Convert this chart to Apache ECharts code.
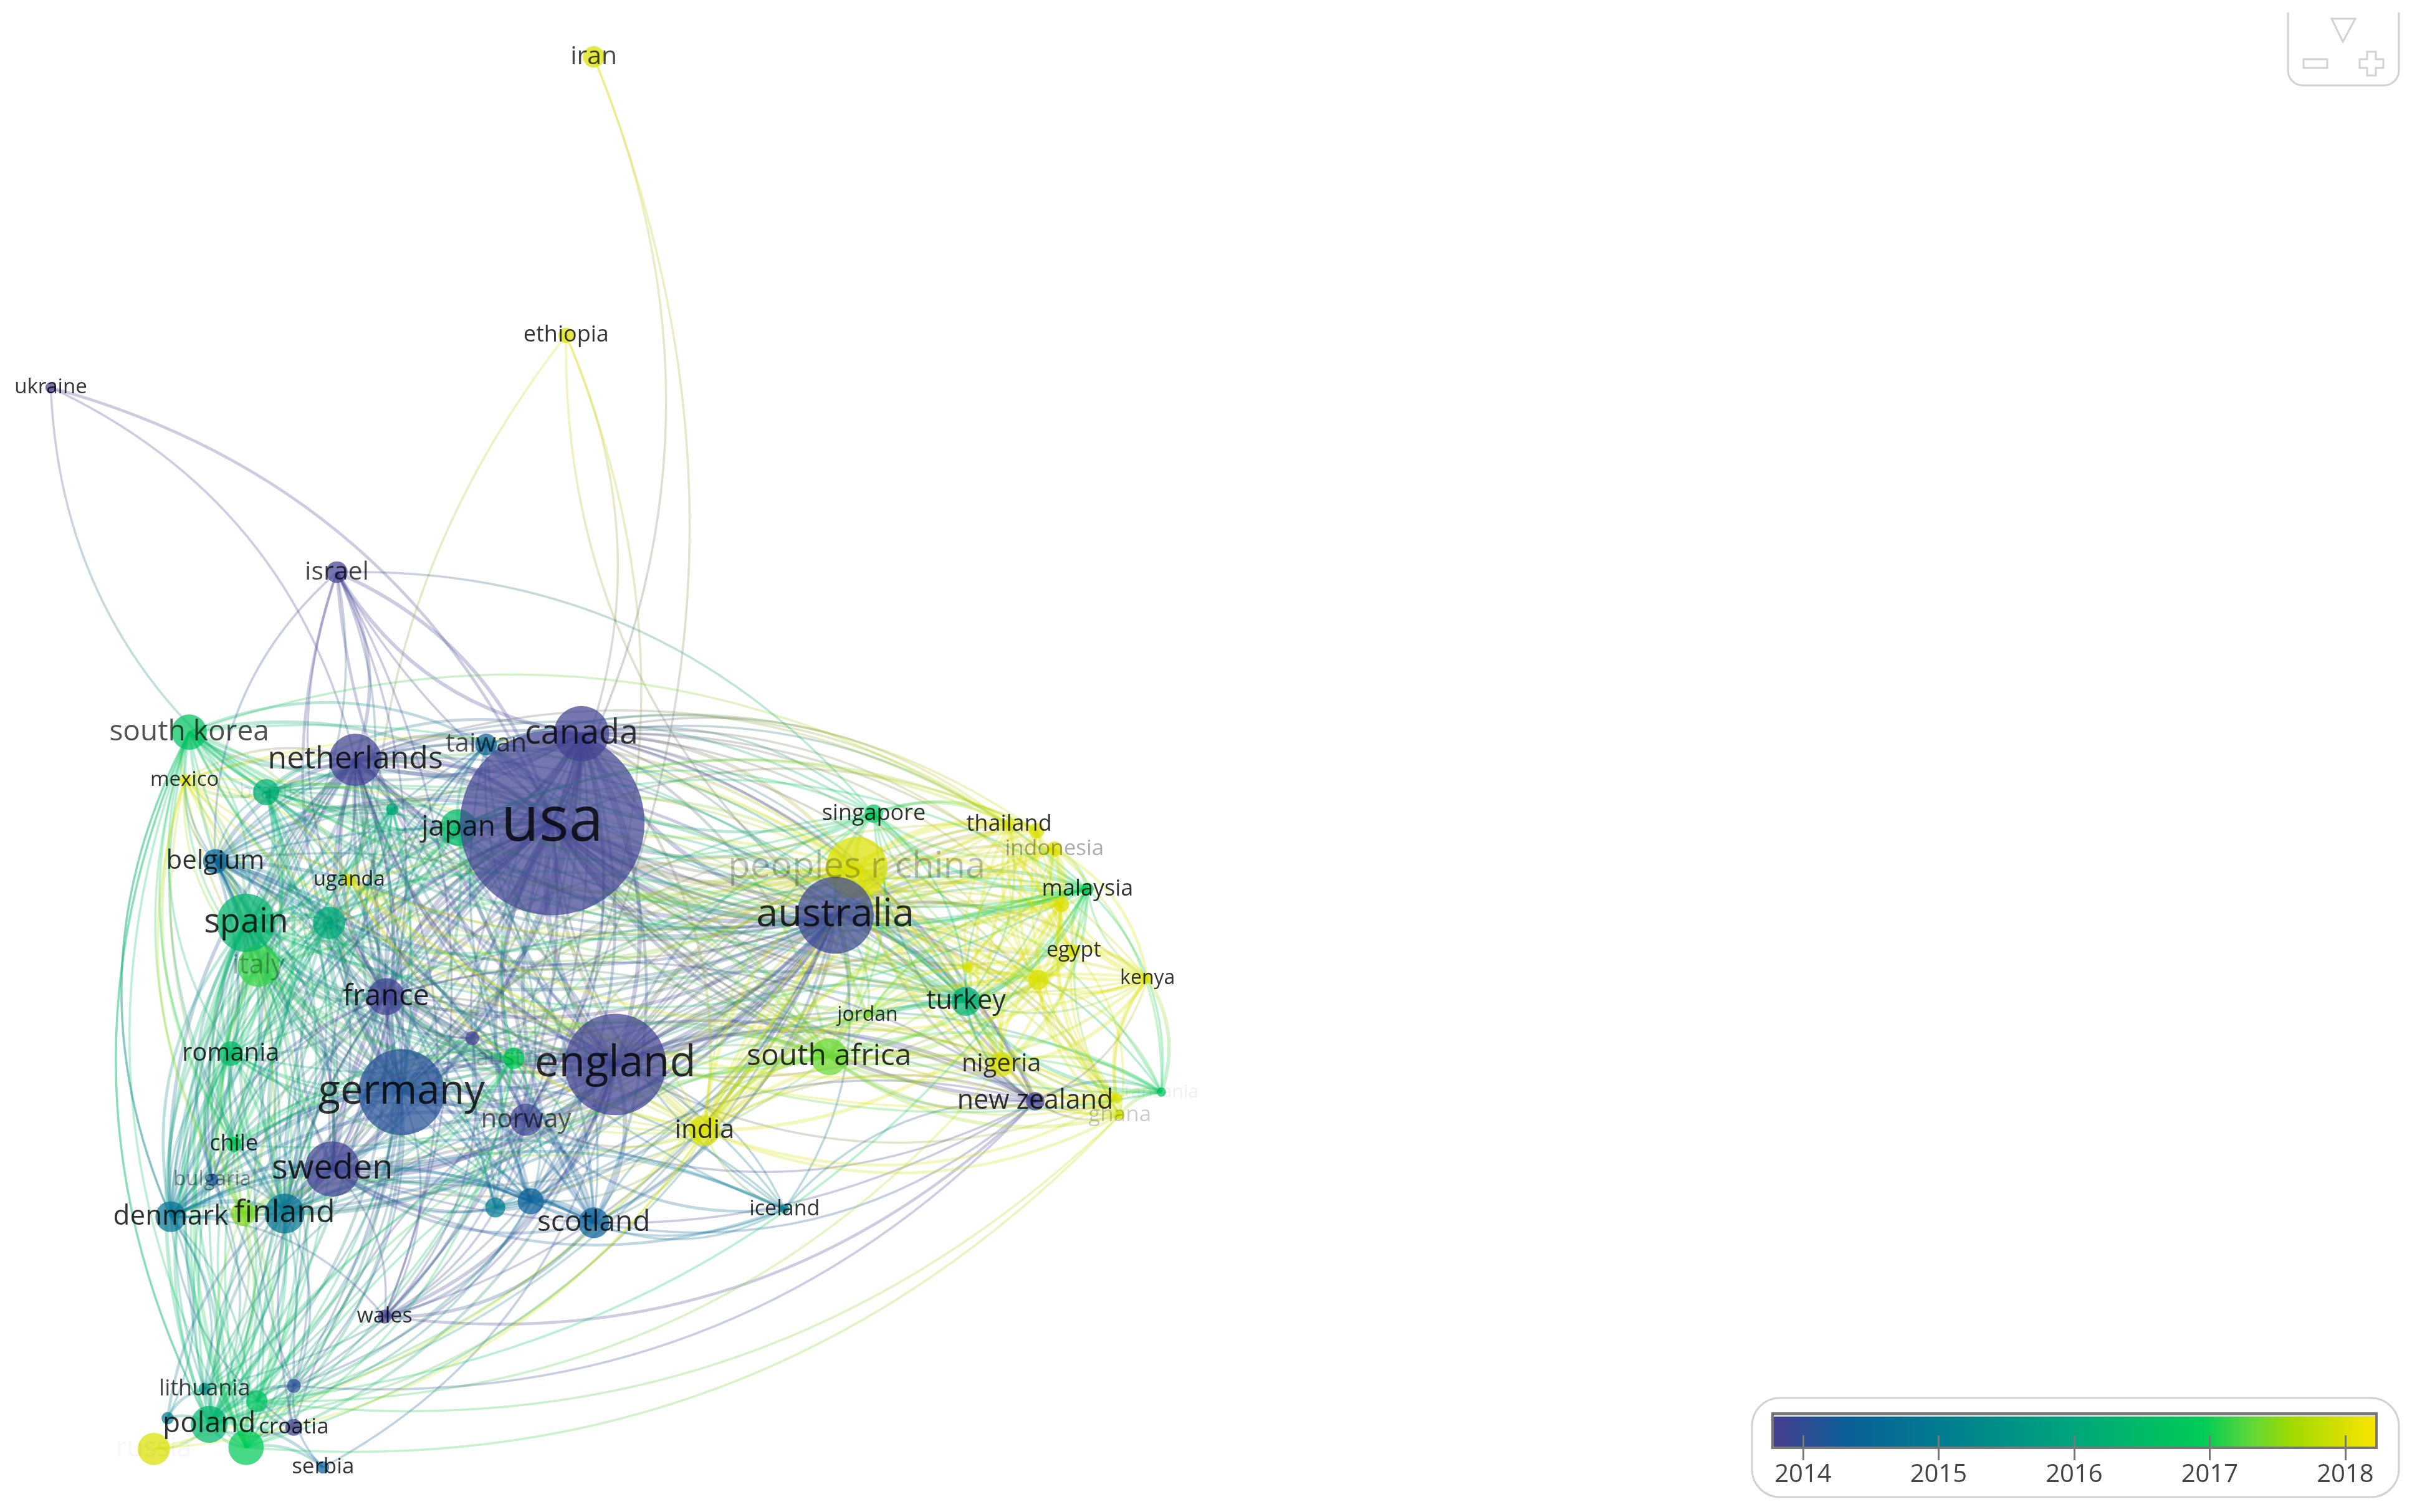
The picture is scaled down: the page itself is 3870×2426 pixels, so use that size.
<!DOCTYPE html>
<html>
<head>
<meta charset="utf-8">
<style>
  html, body { margin: 0; background: #fff; }
  #main { width: 3870px; height: 2426px; filter: blur(0.7px); }
</style>
<script src="https://cdn.jsdelivr.net/npm/echarts@6/dist/echarts.min.js"></script>
</head>
<body>
<div id="main"></div>
<script>
var mapWidth = 1568, mapHeight = 983
var pageScale = 3870 / mapWidth

var countries = ['usa','canada','netherlands','england','germany','australia','peoples r china','spain','italy','south korea','japan','taiwan','belgium','brazil','portugal','switzerland','uganda','france','czech republic','austria','romania','norway','sweden','chile','bulgaria','denmark','hungary','finland','india','scotland','ireland','northern ireland','wales','iceland','south africa','jordan','turkey','nigeria','new zealand','thailand','vietnam','indonesia','malaysia','saudi arabia','egypt','pakistan','lebanon','kenya','tanzania','colombia','ghana','singapore','mexico','ukraine','iran','ethiopia','israel','lithuania','slovakia','slovenia','poland','croatia','estonia','russia','greece','serbia']
var nodeX = [359,378,231,400,261,543,557,160,168,123,298,316,140,173,255,214,227,251,307,334,150,342,216,152,138,111,158,185,458,386,345,322,250,510,539,564,628,651,673,656,674,685.5,707,690,698,675,629,746,755,726,728,568,120,33,386,368,219,133,167,191,136,191,109,100,160,210]
var nodeY = [535,477,494,692,710,595,564,600,628,476,538,484,560,515,526,600,572,648,675,688,685,728,760,744,767,791,789,789,735,795,781,785,856,786,687,660,651,692,716,536,540,552,578,588,618,637,629,636,710,714,725,529,507,252,37,218,372,903,911,901,926,928,922,942,941,954]
var nodeRadius = [60,18,17,33,28,25,20,19,13.5,11.5,12,7,8,8.5,4,10.5,4,12,4.5,7,8,10.5,18,5,4,10,8,13,10,10,8.5,6.5,4.5,3,12,2,9.5,8,6,4,5,5,4,5,4,6.5,3.5,3.5,3,3.5,3,6,3.5,3.5,7,5,7,4,7,4.5,12,5.5,4,10.5,11.5,4]
var nodeYear = [2013.85,2013.85,2013.85,2013.85,2014.1,2013.9,2018,2016.35,2017.15,2016.7,2016.5,2014.4,2014.45,2016.2,2016.1,2016.1,2018,2013.85,2013.85,2016.95,2016.5,2013.9,2013.85,2016.9,2014.2,2014.8,2017.45,2014.85,2018,2014.35,2014.35,2014.95,2013.85,2015,2017.35,2017.4,2016.2,2018,2013.85,2018,2018,2018,2016.95,2018,2018,2018,2018,2018,2016.8,2018,2017.9,2016.85,2018,2013.8,2018,2018,2013.85,2015.5,2016.7,2014.05,2016.4,2013.85,2015,2018,2016.9,2014.4]
// font size of each label in page pixels, 0 where the picture shows no label
var labelSize = [100,54,50,69,65,63,58,54,44,46,46,42,42,34,33,36,33,47,0,38,40,42,54,36,33,44,0,50,42,46,0,0,34,34,48,32,43,40,43,36,0,35,36,0,34,0,0,32,30,0,35,36,33,33,41,36,41,36,0,0,46,35,0,44,0,35]
var labelAlpha = [1,.95,1,1,1,1,.3,1,.35,.85,1,.8,1,.12,.1,.1,1,1,0,.2,1,.75,1,1,.5,1,0,1,1,1,0,0,1,1,1,1,1,.95,1,1,0,.4,1,0,1,0,0,1,.08,0,.25,1,1,1,.9,1,.9,.9,0,0,1,1,0,.04,0,1]

// links between countries, name:weight, weight 1 when left out, ! bends the other way
var linkRows = [
  'usa: canada:5 netherlands:5 england:6 germany:6 australia:6 peoples_r_china:6 spain:4 italy:4 south_korea:3 japan:4 taiwan:3 belgium:3 brazil:3 portugal:2 switzerland:4 france:4 austria:3 czech_republic norway:3 sweden:4 denmark:3 finland:3 scotland:3 ireland:3 northern_ireland:2 wales:2 israel:3 iran ethiopia ukraine:2 mexico:2 uganda:2 india:3 south_africa:3 singapore:2 thailand:2 vietnam indonesia malaysia:2 saudi_arabia:2 egypt pakistan lebanon kenya turkey:2 jordan nigeria new_zealand:3 tanzania ghana colombia iceland romania chile:2 hungary poland:2 greece:2 slovenia bulgaria slovakia',
  'england: canada:4 netherlands:4 germany:5 australia:5 peoples_r_china:4 spain:3 italy:3 south_korea:2 japan:3 taiwan belgium:3 brazil:2 portugal:2 switzerland:3 france:4 austria:2 czech_republic norway:3 sweden:4 denmark:3 finland:3 scotland:4 ireland:3 northern_ireland:3 wales:3 israel:2 mexico uganda:2 india:3 south_africa:3 singapore:2 thailand vietnam indonesia malaysia saudi_arabia:2 egypt pakistan lebanon kenya:2 turkey:2 jordan nigeria:2 new_zealand:3 tanzania ghana colombia iceland romania chile hungary poland:2 greece:2 croatia serbia lithuania slovenia bulgaria',
  'germany: canada:3 netherlands:5 australia:4 peoples_r_china:3 spain:4 italy:4 south_korea:2 japan:3 taiwan belgium:3 brazil:2 portugal:2 switzerland:5 france:4 austria:4 czech_republic norway:3 sweden:4 denmark:3 finland:3 scotland:2 ireland:2 northern_ireland:2 wales israel:2 ethiopia! mexico uganda india:2 south_africa:2 singapore thailand malaysia saudi_arabia turkey:2 new_zealand:2 romania:2 chile hungary:2 poland:3 greece:2 slovenia lithuania bulgaria slovakia iceland',
  'australia: canada:4 netherlands:4 peoples_r_china:4 spain:3 italy:2 south_korea:2 japan:2 taiwan:2 belgium:2 brazil:2 portugal switzerland:2 france:3 austria norway:2 sweden:3 denmark:2 finland:2 scotland:2 ireland:2 northern_ireland wales israel india:3 south_africa:3 singapore:3 thailand:2 vietnam:2 indonesia:2 malaysia:3 saudi_arabia:2 egypt:2 pakistan:2 lebanon kenya:2 turkey:2 jordan nigeria:2 new_zealand:4 tanzania ghana:2 colombia uganda iceland romania chile poland greece ethiopia mexico',
  'canada: netherlands:4 peoples_r_china:3 spain:2 italy:2 south_korea:2 japan:2 taiwan:2 belgium:2 brazil:2 switzerland:2 france:3 austria norway:2 sweden:3 denmark:2 finland:2 scotland:2 ireland:2 northern_ireland wales israel:3 india:2 south_africa:2 singapore thailand malaysia saudi_arabia egypt pakistan kenya turkey jordan nigeria new_zealand:2 ghana uganda mexico chile hungary poland greece romania',
  'netherlands: peoples_r_china:2 spain:3 italy:3 south_korea:2 japan:2 taiwan:2 belgium:4 brazil:2 portugal:2 switzerland:3 france:3 austria:2 czech_republic norway:3 sweden:3 denmark:3 finland:3 scotland:2 ireland:2 northern_ireland:2 wales israel:3 ukraine! india south_africa:2 singapore thailand malaysia turkey new_zealand:2 mexico uganda:2 romania chile hungary poland:2 greece slovenia lithuania bulgaria iceland',
  'peoples_r_china: spain:2 italy:2 south_korea:2 japan:2 taiwan:2 belgium brazil:2 portugal switzerland france:2 austria norway sweden:2 denmark:2 finland:2 scotland ireland india:3 south_africa:3 singapore:4 thailand:3 vietnam:3 indonesia:3 malaysia:4 saudi_arabia:4 egypt:3 pakistan:4 lebanon:2 kenya:2 turkey:3 jordan:2 nigeria:3 new_zealand:2 tanzania ghana:2 colombia uganda mexico poland russia',
  'spain: italy:4 south_korea japan brazil:3 belgium:3 portugal:3 switzerland:2 france:3 austria romania:2 chile:2 sweden:2 denmark:2 finland:2 hungary:2 norway scotland ireland poland:3 greece:3 slovakia:2 slovenia mexico:2 turkey:2 india south_africa singapore malaysia israel uganda bulgaria:2 czech_republic',
  'italy: south_korea brazil:2 belgium:2 portugal:2 switzerland:2 france:3 austria:2 romania:2 chile sweden:2 denmark:2 finland:2 hungary:2 poland:2 greece:3 slovakia:2 turkey:2 india south_africa mexico bulgaria:2 japan',
  'south_korea: japan:2 taiwan:2 belgium mexico:2 brazil:2 portugal france sweden denmark finland romania chile hungary poland greece turkey malaysia thailand indonesia singapore india uganda',
  'japan: taiwan:2 belgium brazil switzerland france:2 sweden:2 denmark finland norway scotland thailand:2 indonesia vietnam singapore malaysia india south_africa turkey uganda',
  'taiwan: belgium france sweden denmark finland scotland thailand singapore:2 malaysia vietnam india turkey',
  'belgium: brazil switzerland:3 france:4 portugal:2 austria:2 norway:2 sweden:2 denmark:2 finland:2 ireland:2 scotland:2 northern_ireland romania chile hungary poland greece south_africa mexico uganda israel turkey',
  'brazil: portugal:3 switzerland france:2 chile:3 mexico:2 sweden denmark finland romania south_africa india nigeria colombia poland slovakia ukraine',
  'portugal: switzerland france romania sweden denmark finland ireland poland greece slovakia turkey',
  'switzerland: france:3 austria:3 norway sweden:2 denmark:2 finland:2 ireland scotland romania poland greece hungary slovenia uganda israel south_africa india',
  'france: austria:2 norway:2 sweden:3 denmark:2 finland:2 scotland:2 ireland:2 northern_ireland romania:2 hungary poland:2 greece:2 czech_republic israel india south_africa turkey new_zealand iceland uganda croatia bulgaria',
  'austria: norway sweden:2 denmark finland:2 scotland ireland czech_republic hungary poland greece slovenia romania',
  'norway: iran sweden:4 denmark:3 finland:3 scotland:2 ireland:2 iceland:2 wales new_zealand south_africa india poland lithuania ethiopia',
  'sweden: denmark:4 finland:4 scotland:2 ireland:2 northern_ireland wales iceland:2 romania poland:2 greece lithuania estonia:2 new_zealand south_africa india hungary israel',
  'denmark: finland:4 scotland:2 ireland:2 iceland:2 wales hungary poland:2 lithuania estonia romania chile greece croatia south_korea',
  'finland: scotland:2 ireland:2 iceland:2 hungary:2 poland:2 lithuania greece romania chile bulgaria slovenia mexico',
  'scotland: ireland:3 northern_ireland:3 wales:3 new_zealand south_africa india iceland',
  'ireland: northern_ireland:3 wales:2 iceland poland south_africa new_zealand india',
  'wales: czech_republic new_zealand:2 israel',
  'romania: poland:2 hungary:2 bulgaria:2 slovakia:2 chile greece lithuania turkey india slovenia mexico',
  'chile: mexico:2 colombia poland',
  'poland: lithuania:3 slovakia:3 estonia:2 greece:2 croatia:2 slovenia:2 serbia:2 russia:2 hungary:2 bulgaria turkey mexico south_korea',
  'hungary: slovakia:2 greece lithuania northern_ireland:3 mexico',
  'greece: slovakia slovenia serbia:2 lithuania turkey bulgaria ghana',
  'slovakia: slovenia:2 croatia:2 lithuania south_africa malaysia ghana nigeria',
  'slovenia: croatia:2 serbia new_zealand',
  'lithuania: estonia:2',
  'india: south_africa:3 singapore thailand:2 vietnam:2 indonesia:2 malaysia:3 saudi_arabia:3 egypt:3 pakistan:3 lebanon kenya:2 turkey:3 jordan nigeria:3 new_zealand tanzania ghana:2 colombia:2 uganda:2 iceland poland russia',
  'south_africa: singapore thailand indonesia malaysia:2 saudi_arabia:2 egypt pakistan:2 kenya:2 turkey:2 jordan nigeria:3 new_zealand:2 tanzania:2 ghana:3 colombia uganda:2 poland mexico chile',
  'singapore: thailand:2 vietnam:2 indonesia:2 malaysia:3 saudi_arabia:2 egypt pakistan turkey new_zealand israel',
  'thailand: vietnam:3 indonesia:3 malaysia:3 saudi_arabia:2 egypt:2 pakistan:2 kenya lebanon nigeria:2 turkey colombia',
  'vietnam: indonesia:3 malaysia:3 saudi_arabia:2 egypt:2 pakistan:2 kenya nigeria:2 turkey ghana',
  'indonesia: malaysia:3 saudi_arabia:3 egypt:2 pakistan:3 kenya:2 lebanon nigeria:2 turkey tanzania',
  'malaysia: saudi_arabia:3 egypt:2 pakistan:2 kenya lebanon:2 turkey:4 nigeria:2 tanzania ghana jordan',
  'saudi_arabia: egypt:3 pakistan:4 lebanon:2 kenya:3 turkey:3 nigeria:3 jordan:2 ghana:2 colombia',
  'egypt: pakistan:3 lebanon:2 kenya:3 turkey:2 nigeria:2 jordan ghana colombia',
  'pakistan: lebanon:2 kenya:3 turkey:3 nigeria:3 jordan ghana:2 colombia:2 tanzania',
  'lebanon: kenya turkey:2 jordan:2 nigeria:2',
  'kenya: tanzania:3 nigeria:3 ghana:2 colombia:3 new_zealand turkey uganda:2',
  'turkey: jordan:2 nigeria:2 new_zealand tanzania:3 ghana:2 colombia',
  'nigeria: new_zealand tanzania:2 ghana:3 colombia:3 uganda:2',
  'new_zealand: tanzania:2 ghana colombia iceland',
  'tanzania: colombia:3 ghana:3 uganda',
  'ghana: colombia:2',
  'mexico: uganda colombia'
]

// colour bar of the picture
var barYears = [2013.775,2014.33,2015.1,2016,2016.95,2017.3,2017.6,2018.23]
var barColors = ['#4a3d90','#0b5f98','#00808f','#00a67c','#00cc55','#5fd83a','#a0da00','#fde400']
var tickYears = [2014,2015,2016,2017,2018]

function hexToRgb(hex) {
    return [parseInt(hex.substr(1, 2), 16), parseInt(hex.substr(3, 2), 16), parseInt(hex.substr(5, 2), 16)]
}

function colorForYear(year) {
    var i = 0
    while (i < barYears.length - 2 && year > barYears[i + 1]) i++
    var t = Math.max(0, Math.min(1, (year - barYears[i]) / (barYears[i + 1] - barYears[i])))
    var a = hexToRgb(barColors[i]), b = hexToRgb(barColors[i + 1])
    return 'rgb(' + [0, 1, 2].map(function (k) { return Math.round(a[k] + (b[k] - a[k]) * t) }).join(',') + ')'
}

var order = countries.map(function (c, i) { return i })
// the bigger circle lies on top
order.sort(function (a, b) { return nodeRadius[a] - nodeRadius[b] })

var graphNodes = order.map(function (i) {
    return {
        name: countries[i],
        value: [nodeX[i], nodeY[i]],
        symbolSize: nodeRadius[i] * 2 * pageScale,
        itemStyle: { color: colorForYear(nodeYear[i]) }
    }
})

var labelPoints = []
countries.forEach(function (c, i) {
    if (labelSize[i] === 0) return
    labelPoints.push({
        name: c,
        value: [nodeX[i], nodeY[i]],
        label: { fontSize: labelSize[i], color: 'rgba(0,0,0,' + labelAlpha[i] + ')' }
    })
})

var graphLinks = []
linkRows.forEach(function (row) {
    var parts = row.split(': ')
    var from = parts[0].replace(/_/g, ' ')
    parts[1].split(' ').forEach(function (token) {
        var flip = token.slice(-1) === '!'
        var bits = token.replace('!', '').split(':')
        var to = bits[0].replace(/_/g, ' ')
        var weight = bits[1] ? +bits[1] : 1
        // curves lean to the left going from the earlier name to the later one
        var source = from < to ? from : to
        var target = from < to ? to : from
        var s = countries.indexOf(source), t = countries.indexOf(target)
        graphLinks.push({
            source: source,
            target: target,
            lineStyle: {
                width: 2.4 + weight * 1.1,
                curveness: flip ? -0.24 : 0.24,
                color: new echarts.graphic.LinearGradient(
                    nodeX[s] * pageScale, nodeY[s] * pageScale, nodeX[t] * pageScale, nodeY[t] * pageScale,
                    [{ offset: 0, color: colorForYear(nodeYear[s]) }, { offset: 1, color: colorForYear(nodeYear[t]) }],
                    true
                )
            }
        })
    })
})

var barMin = barYears[0], barMax = barYears[barYears.length - 1]
var barStops = barYears.map(function (y, i) {
    return { offset: (y - barMin) / (barMax - barMin), color: barColors[i] }
})

var chart = echarts.init(document.getElementById('main'), null, { renderer: 'canvas' })

chart.setOption({
    backgroundColor: '#fff',
    animation: false,
    textStyle: { fontFamily: '"Open Sans"' },
    grid: [
        { left: 0, top: 0, right: 0, bottom: 0 },
        { left: 2844, top: 2268, width: 969, height: 35 }
    ],
    xAxis: [
        { gridIndex: 0, type: 'value', min: 0, max: mapWidth, show: false },
        {
            gridIndex: 1, type: 'value', min: barMin, max: barMax, z: 6,
            splitLine: { show: false },
            axisLine: { show: false },
            axisTick: { customValues: tickYears, length: 40, lineStyle: { color: '#777', width: 3 } },
            axisLabel: {
                customValues: tickYears, margin: 44, fontSize: 40, color: '#444',
                fontFamily: '"Open Sans"',
                formatter: function (v) { return String(v) }
            }
        }
    ],
    yAxis: [
        { gridIndex: 0, type: 'value', min: 0, max: mapHeight, inverse: true, show: false },
        { gridIndex: 1, type: 'value', min: 0, max: 1, show: false }
    ],
    series: [
        {
            type: 'graph',
            coordinateSystem: 'cartesian2d',
            xAxisIndex: 0,
            yAxisIndex: 0,
            layout: 'none',
            silent: true,
            z: 2,
            data: graphNodes,
            links: graphLinks,
            symbol: 'circle',
            label: { show: false },
            itemStyle: { opacity: 0.72 },
            lineStyle: { opacity: 0.27 }
        },
        {
            type: 'scatter',
            xAxisIndex: 0,
            yAxisIndex: 0,
            silent: true,
            z: 3,
            symbolSize: 0,
            data: labelPoints,
            label: {
                show: true,
                position: 'inside',
                fontFamily: '"Open Sans"',
                formatter: function (p) { return p.name }
            }
        }
    ],
    graphic: [
        // colour bar panel
        { type: 'rect', z: 1, shape: { x: 2811, y: 2243, width: 1038, height: 159, r: 45 }, style: { fill: '#fff', stroke: '#d2d2d2', lineWidth: 3 } },
        {
            type: 'rect', z: 1,
            shape: { x: 2844, y: 2268, width: 969, height: 55 },
            style: {
                fill: new echarts.graphic.LinearGradient(0, 0, 1, 0, barStops),
                stroke: '#777', lineWidth: 4
            }
        },
        { type: 'rect', z: 1, shape: { x: 2846, y: 2270, width: 965, height: 3 }, style: { fill: '#d8dcd8' } },
        // zoom buttons, the panel runs off the top
        { type: 'rect', z: 1, shape: { x: 3671, y: -80, width: 178, height: 217, r: 24 }, style: { fill: '#fff', stroke: '#d2d2d2', lineWidth: 3 } },
        { type: 'rect', z: 1, shape: { x: 3660, y: 0, width: 200, height: 20 }, style: { fill: '#fff' } },
        { type: 'polygon', z: 1, shape: { points: [[3741, 30], [3779, 30], [3759, 67]] }, style: { fill: '#fff', stroke: '#d2d2d2', lineWidth: 3 } },
        { type: 'rect', z: 1, shape: { x: 3696, y: 95, width: 38, height: 14 }, style: { fill: '#fff', stroke: '#d2d2d2', lineWidth: 3 } },
        {
            type: 'polygon', z: 1,
            shape: { points: [[3798, 83], [3812, 83], [3812, 95], [3824, 95], [3824, 109], [3812, 109], [3812, 121], [3798, 121], [3798, 109], [3786, 109], [3786, 95], [3798, 95]] },
            style: { fill: '#fff', stroke: '#d2d2d2', lineWidth: 3 }
        }
    ]
})
</script>
</body>
</html>
